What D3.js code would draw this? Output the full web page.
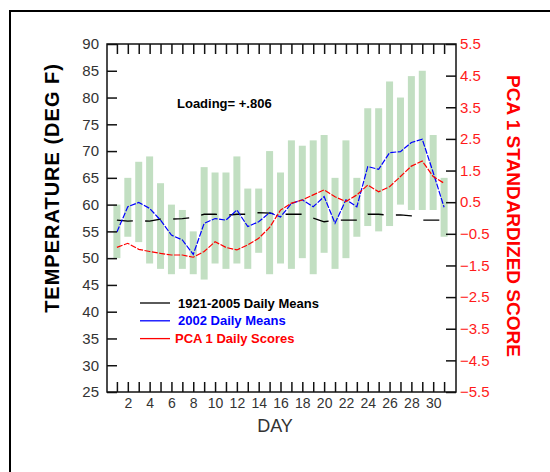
<!DOCTYPE html>
<html>
<head>
<meta charset="utf-8">
<script src="https://cdn.jsdelivr.net/npm/d3@7"></script>
<style>
  body { margin: 0; background: #fff; }
  svg { display: block; }
</style>
</head>
<body>
<svg id="chart"></svg>
<script>
// daily values
var days = d3.range(1, 32);
var barHigh = [60, 65, 68, 69, 64, 60, 59, 55, 67, 66, 66, 69, 63, 63, 70, 66,
               72, 71, 72, 73, 65, 72, 65, 78, 78, 83, 80, 84, 85, 73, 65];
var barLow  = [50, 54, 53, 49, 48, 47, 48, 47, 46, 49, 48, 49, 48, 51, 47, 49,
               48, 50, 47, 51, 48, 50, 54, 56, 55, 56, 60, 59, 59, 59, 54];
var climMean = [57.1, 56.9, 57.0, 56.9, 57.3, 57.3, 57.4, 57.6, 58.2, 58.2, 58.0,
                58.2, 58.2, 58.5, 58.4, 58.2, 58.2, 58.2, 57.5, 56.8, 57.1, 57.1,
                57.1, 58.2, 58.2, 58.0, 58.1, 57.9, 57.1, 57.1, 57.1];
var mean2002 = [54.9, 59.6, 60.4, 59.3, 57.1, 54.3, 53.4, 50.7, 56.5, 57.4, 57.1,
                59.0, 55.9, 56.8, 58.5, 57.7, 60.2, 60.9, 59.6, 61.5, 56.5, 60.9,
                59.6, 67.1, 66.6, 69.7, 69.9, 71.6, 72.2, 66.0, 59.5];
var pcaScore = [-0.93, -0.80, -0.99, -1.06, -1.12, -1.17, -1.17, -1.24, -1.06, -0.75,
                -0.93, -1.01, -0.85, -0.64, -0.30, 0.25, 0.47, 0.57, 0.73, 0.89,
                0.67, 0.52, 0.73, 1.04, 0.83, 0.99, 1.31, 1.64, 1.80, 1.31, 1.10];

var tempTicks = d3.range(25, 91, 5);
var scoreTicks = d3.range(-5.5, 5.6, 1);
var dayLabels = d3.range(2, 31, 2);

var legendItems = [
  {label: "1921-2005  Daily Means", color: "#000"},
  {label: "2002 Daily Means", color: "#0000ff"},
  {label: "PCA 1 Daily Scores", color: "#ff0000"}
];

var W = 550, H = 472;
var pLeft = 107, pRight = 456, pTop = 44, pBottom = 392;

var svg = d3.select("#chart")
    .attr("width", W)
    .attr("height", H);

// outer frame, runs off the right and bottom edges
svg.append("rect")
    .attr("x", 10).attr("y", 11)
    .attr("width", 600).attr("height", 500)
    .attr("fill", "#fff")
    .attr("stroke", "#000")
    .attr("stroke-width", 2);

var x = d3.scaleLinear().domain([0, 32]).range([pLeft - 1, pRight - 1]);
var y = d3.scaleLinear().domain([25, 90]).range([pBottom, pTop]);
var y2 = d3.scaleLinear().domain([-5.5, 5.5]).range([pBottom, pTop]);

var g = svg.append("g");

// range bars
g.selectAll(".bar")
    .data(days)
    .enter().append("rect")
    .attr("class", "bar")
    .attr("x", function(d) { return x(d) - 3.5; })
    .attr("width", 7)
    .attr("y", function(d, i) { return y(barHigh[i]); })
    .attr("height", function(d, i) { return y(barLow[i]) - y(barHigh[i]); })
    .attr("fill", "#c2dfc2");

var line = d3.line()
    .x(function(d) { return x(d[0]); })
    .y(function(d) { return d[1]; });

g.append("path")
    .datum(days.map(function(d, i) { return [d, y(climMean[i])]; }))
    .attr("d", line)
    .attr("fill", "none")
    .attr("stroke", "#000")
    .attr("stroke-width", 1.3)
    .attr("stroke-dasharray", "16,12.3");

g.append("path")
    .datum(days.map(function(d, i) { return [d, y(mean2002[i])]; }))
    .attr("d", line)
    .attr("fill", "none")
    .attr("stroke", "#0000ff")
    .attr("stroke-width", 1.2)
    .attr("stroke-dasharray", "6,1.5");

g.append("path")
    .datum(days.map(function(d, i) { return [d, y2(pcaScore[i])]; }))
    .attr("d", line)
    .attr("fill", "none")
    .attr("stroke", "#ff0000")
    .attr("stroke-width", 1.2)
    .attr("stroke-dasharray", "6,1.5");

// axes, ticks point inward
var tickFont = "'Liberation Sans', Arial, sans-serif";

var leftAxis = svg.append("g")
    .attr("transform", "translate(" + pLeft + ",0)")
    .call(d3.axisLeft(y).tickValues(tempTicks).tickSize(-10).tickPadding(8));

var rightAxis = svg.append("g")
    .attr("transform", "translate(" + pRight + ",0)")
    .call(d3.axisRight(y2).tickValues(scoreTicks).tickSize(-10).tickPadding(4)
          .tickFormat(d3.format(".1f")));

var bottomAxis = svg.append("g")
    .attr("transform", "translate(0," + pBottom + ")")
    .call(d3.axisBottom(x).tickValues(days).tickSize(-10).tickPadding(6)
          .tickFormat(function(d) { return dayLabels.indexOf(d) >= 0 ? d : ""; }));

var topAxis = svg.append("g")
    .attr("transform", "translate(0," + pTop + ")")
    .call(d3.axisTop(x).tickValues(days).tickSize(-10).tickFormat(""));

svg.selectAll(".domain").remove();
svg.selectAll(".tick line").attr("stroke", "#111").attr("stroke-width", 1.5);
svg.selectAll(".tick text")
    .attr("font-family", tickFont)
    .attr("font-size", 15)
    .attr("fill", "#333");
bottomAxis.selectAll(".tick text").attr("font-size", 14);
rightAxis.selectAll(".tick text").attr("fill", "#ff1a1a");

svg.append("rect")
    .attr("x", pLeft).attr("y", pTop)
    .attr("width", pRight - pLeft).attr("height", pBottom - pTop)
    .attr("fill", "none")
    .attr("stroke", "#111")
    .attr("stroke-width", 1.5);

// titles
svg.append("text")
    .attr("transform", "translate(59,188) rotate(-90)")
    .attr("text-anchor", "middle")
    .attr("font-family", tickFont)
    .attr("font-weight", "bold")
    .attr("font-size", 20)
    .attr("letter-spacing", 1)
    .text("TEMPERATURE (DEG F)");

svg.append("text")
    .attr("transform", "translate(507,216) rotate(90)")
    .attr("text-anchor", "middle")
    .attr("font-family", tickFont)
    .attr("font-weight", "bold")
    .attr("font-size", 19)
    .attr("fill", "#ff0000")
    .text("PCA 1 STANDARDIZED SCORE");

svg.append("text")
    .attr("x", 275).attr("y", 432)
    .attr("text-anchor", "middle")
    .attr("font-family", tickFont)
    .attr("font-size", 18)
    .attr("fill", "#333")
    .text("DAY");

svg.append("text")
    .attr("x", 177).attr("y", 108)
    .attr("font-family", tickFont)
    .attr("font-weight", "bold")
    .attr("font-size", 13)
    .text("Loading= +.806");

// legend
var legend = svg.selectAll(".legend")
    .data(legendItems)
    .enter().append("g")
    .attr("class", "legend")
    .attr("transform", function(d, i) { return "translate(140," + (303 + i * 17.8) + ")"; });

legend.append("line")
    .attr("x1", 0).attr("x2", 30)
    .attr("stroke", function(d) { return d.color; })
    .attr("stroke-width", 1.3);

legend.append("text")
    .attr("x", function(d, i) { return i == 2 ? 35 : 38; })
    .attr("dy", "0.36em")
    .attr("font-family", tickFont)
    .attr("font-weight", "bold")
    .attr("font-size", 13)
    .attr("fill", function(d) { return d.color; })
    .text(function(d) { return d.label; });
</script>
</body>
</html>
